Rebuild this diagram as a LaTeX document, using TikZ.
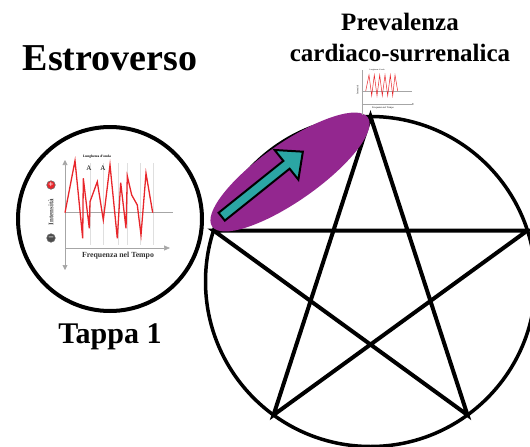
\documentclass[tikz,border=0pt]{standalone}
\usepackage{fontspec}
\setmainfont{Liberation Serif}
\usepackage{xcolor}
\usetikzlibrary{positioning, shapes.geometric, arrows.meta}

\definecolor{viola}{HTML}{93278F}
\definecolor{turchese}{HTML}{2BA6A4}
\definecolor{rosso}{HTML}{E8262B}

\tikzset{
  titolo/.style={font=\bfseries\fontsize{#1}{#1}\selectfont, inner sep=0pt},
  ruotabox/.style={circle, draw, line width=3.5pt, outer sep=0pt, inner sep=0pt},
  assegrigio/.style={draw=gray!70, line width=0.6pt},
  onda/.style={draw=rosso, line width=1.3pt, line join=miter},
  segno/.style={circle, draw=black!60, line width=0.6pt, inner sep=0pt, minimum size=8.5pt, text=white, font=\bfseries\fontsize{9}{9}\selectfont},
}

\begin{document}
\begin{tikzpicture}[x=1pt, y=-1pt]
        \useasboundingbox (0,0) rectangle (530,447);
        \clip (0,0) rectangle (530,447);

        % cerchio grande con pentagramma
        \node[ruotabox, minimum size=330pt] (ruota) at (370.5,281.5) {};
        \foreach \i in {0,...,4}
            \coordinate (p\i) at (ruota.{90+72*\i});
        \draw[line width=4pt, line join=miter] (p0) -- (p2) -- (p4) -- (p1) -- (p3) -- cycle;

        % cerchio piccolo
        \node[ruotabox, line width=4pt, minimum size=184pt] (tappa) at (110,219) {};

        % ellisse e freccia
        \node[ellipse, fill=viola, minimum width=190pt, minimum height=58pt, rotate=35] (halo) at (290,172) {};
        \begin{scope}[shift={(221.7,216.7)}, rotate=38.7]
            \draw[fill=turchese, line width=2pt, line join=miter]
                (0,-5) -- (83,-5) -- (83,-19) -- (104,0) -- (83,19) -- (83,5) -- (0,5) -- cycle;
        \end{scope}

        % grafico nel cerchio piccolo
        \foreach \x in {90,103.3,118.3,127.3,140,153.3}
            \draw[gray!25, line width=0.5pt] (\x,163) -- (\x,245);
        \draw[assegrigio] (65,212.7) -- (173,212.7);
        \draw[assegrigio] (65,165) -- (65,265);
        \draw[-{Triangle[length=5pt,width=5pt]}, gray!70, line width=0.6pt] (65,165) -- (65,160);
        \draw[-{Triangle[length=5pt,width=5pt]}, gray!70, line width=0.6pt] (65,265) -- (65,270);
        \draw[assegrigio, -{Triangle[length=6pt,width=5pt]}] (65,248) -- (170,248);
        \draw[onda] (65,212.7) -- (75,160.7) -- (82.7,238.3) -- (83.3,178.3) -- (89.3,228.3)
            -- (90,201.7) -- (97.3,181.7) -- (103.3,220) -- (110,165) -- (117.3,238.3)
            -- (120.7,182.7) -- (126,228.3) -- (127.3,176) -- (131.7,195) -- (137.3,205)
            -- (141,235) -- (146,173.3) -- (152.7,212.7);
        \node[font=\bfseries\fontsize{7.8}{8}\selectfont, text=black!80, inner sep=0pt] (freq) at (118,256) {Frequenza nel Tempo};
        \node[font=\bfseries\fontsize{7}{7}\selectfont, text=black!70, rotate=90, inner sep=0pt] (int) at (51,212) {Intensità};
        \node[segno, fill=rosso] (piu) at (51,185) {+};
        \node[segno, fill=black!70] (meno) at (51,238) {–};
        \node[font=\bfseries\fontsize{3.5}{4}\selectfont, inner sep=0pt] (lung) at (97,157) {Lunghezza d'onda};
        \node[font=\fontsize{7}{7}\selectfont, inner sep=0pt] (a1) at (89,168) {A};
        \node[font=\fontsize{7}{7}\selectfont, inner sep=0pt] (a2) at (103,168) {A};

        % grafico piccolo in alto
        \draw[gray!70, line width=0.3pt] (361.7,70) -- (361.7,115);
        \draw[gray!70, line width=0.3pt] (361.7,91) -- (411.7,91);
        \draw[gray!70, line width=0.3pt, -{Triangle[length=2pt,width=2pt]}] (361.7,104) -- (414,104);
        \draw[rosso, line width=0.5pt] (365.7,91) -- (369,75) -- (371.7,95.7) -- (374.3,75) -- (377,95.7)
            -- (379.7,75) -- (382.3,95.7) -- (385,75) -- (387.7,95.7) -- (390.3,75) -- (392.7,95.7)
            -- (395,75) -- (397.7,91);
        \node[font=\fontsize{2.5}{3}\selectfont, inner sep=0pt] (freqmini) at (383,108) {Frequenza nel Tempo};
        \node[font=\fontsize{2.5}{3}\selectfont, rotate=90, inner sep=0pt] (intmini) at (357.5,90) {Intensità};
        \node[font=\fontsize{2}{2}\selectfont, inner sep=0pt] (lungmini) at (377,70.5) {Lunghezza d'onda};

        % testi
        \node[titolo=38] (estro) at (110,58) {Estroverso};
        \node[titolo=30, below=12pt of tappa] (tappa1) {Tappa 1};
        \node[titolo=25, align=center, font=\bfseries\fontsize{25}{31}\selectfont] (preval) at (400,37) {Prevalenza\\cardiaco-surrenalica};
    \end{tikzpicture}
\end{document}
